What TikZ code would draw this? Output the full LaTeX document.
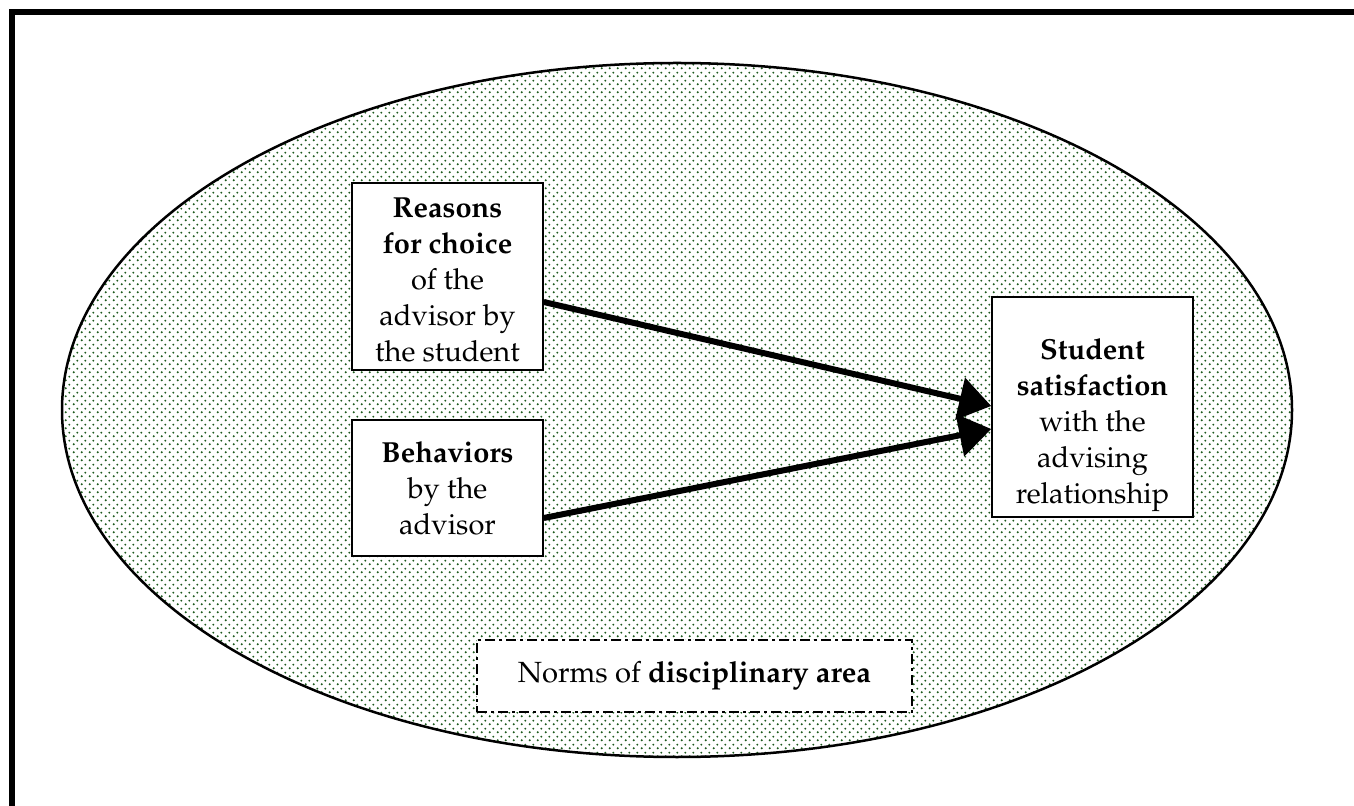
\documentclass[tikz,border=0pt]{standalone}
\usepackage[T1]{fontenc}
\usepackage{mathpazo}
\usetikzlibrary{arrows.meta,patterns}
\pgfdeclarepatternformonly{gdots}{\pgfqpoint{0pt}{0pt}}{\pgfqpoint{4pt}{4pt}}{\pgfqpoint{4pt}{4pt}}{%
 \pgfpathcircle{\pgfqpoint{1pt}{1pt}}{0.6pt}%
 \pgfpathcircle{\pgfqpoint{3pt}{3pt}}{0.6pt}%
 \pgfusepath{fill}}
\definecolor{dotgreen}{RGB}{30,90,30}
\tikzset{
 box/.style={draw=black, line width=0.75pt, fill=white, inner sep=0pt},
 boxtext/.style={align=center, font=\fontsize{14.5}{18}\selectfont},
 link/.style={line width=3pt, -{Triangle[length=16pt,width=21pt]}},
 normsbox/.style={draw=black, line width=1.3pt, dash pattern=on 5pt off 2pt on 1.5pt off 2pt,
   fill=white, inner sep=0pt, font=\fontsize{14.6}{18}\selectfont},
}
\begin{document}
\begin{tikzpicture}[x=0.5pt,y=-0.5pt]
\useasboundingbox (0,0) rectangle (1354,806);
\fill[white] (0,0) rectangle (1354,806);
\begin{scope}
\clip (0,0) rectangle (1354,806);
\draw[line width=3pt] (12,12) rectangle (1420,920);
\end{scope}
\draw[line width=1.25pt, pattern=gdots, pattern color=dotgreen] (677,410) ellipse [x radius=615, y radius=347];

\node[box, minimum width=95.5pt, minimum height=93.5pt,
  label={[boxtext, yshift=-2pt]center:{\textbf{Reasons}\\\textbf{for choice}\\of the\\advisor by\\the student}}]
  (reasons) at (447.5,276.5) {};
\node[box, minimum width=95.5pt, minimum height=68pt,
  label={[boxtext]center:{\textbf{Behaviors}\\by the\\advisor}}]
  (behav) at (447.5,488) {};
\node[box, minimum width=100.5pt, minimum height=110pt,
  label={[boxtext, yshift=-9pt]center:{\textbf{Student}\\\textbf{satisfaction}\\with the\\advising\\relationship}}]
  (sat) at (1092.5,407) {};
\node[normsbox, minimum width=217.5pt, minimum height=36pt] (norms) at (694.5,676) {Norms of \textbf{disciplinary area}};

\draw[link] ([yshift=-12.75pt]reasons.east) -- ([yshift=0.5pt]sat.west);
\draw[link] ([yshift=-15pt]behav.east) -- ([yshift=-11pt]sat.west);
\end{tikzpicture}
\end{document}
